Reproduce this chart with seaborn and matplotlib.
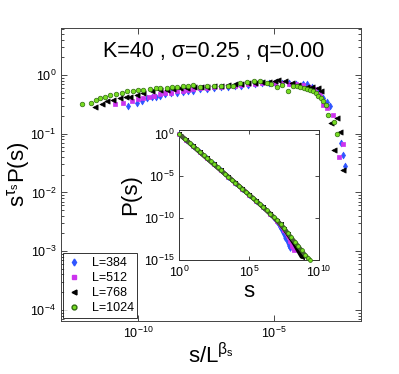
import numpy as np
import pandas as pd
import matplotlib
matplotlib.use("Agg")
import matplotlib.pyplot as plt
import seaborn as sns
from matplotlib.ticker import LogLocator, NullLocator, NullFormatter
from matplotlib.lines import Line2D

# main panel: log10(s/L^beta_s), log10(s^tau P(s))
x_384 = [-10.36, -10.03, -9.85, -9.68, -9.50, -9.35, -9.19, -9.00, -8.80, -8.58, -8.35, -8.15, -7.97, -7.72,
         -7.47, -7.20, -6.95, -6.70, -6.45, -6.20, -5.95, -5.70, -5.45, -5.20, -4.95, -4.70, -4.45, -4.20,
         -3.95, -3.80, -3.60, -3.40, -3.19, -3.05, -2.94, -2.55, -2.47, -2.39]
y_384 = [-0.52, -0.47, -0.44, -0.40, -0.38, -0.37, -0.35, -0.33, -0.31, -0.30, -0.29, -0.28, -0.27, -0.24,
         -0.24, -0.22, -0.21, -0.20, -0.19, -0.18, -0.17, -0.15, -0.14, -0.13, -0.13, -0.14, -0.14, -0.15,
         -0.16, -0.16, -0.20, -0.26, -0.40, -0.46, -0.53, -1.16, -1.36, -1.55]

x_512 = [-10.85, -10.54, -10.23, -10.00, -9.80, -9.60, -9.40, -9.19, -9.00, -8.80, -8.58, -8.35, -8.15,
         -7.97, -7.72, -7.47, -7.20, -6.95, -6.70, -6.45, -6.20, -5.95, -5.70, -5.45, -5.20, -4.95, -4.70,
         -4.45, -4.20, -3.95, -3.70, -3.50, -3.30, -3.20, -3.05, -2.82, -2.45, -2.60]
y_512 = [-0.50, -0.47, -0.44, -0.41, -0.39, -0.37, -0.35, -0.33, -0.31, -0.30, -0.28, -0.27, -0.25,
         -0.24, -0.23, -0.22, -0.21, -0.20, -0.19, -0.18, -0.17, -0.16, -0.15, -0.14, -0.13, -0.13, -0.14,
         -0.15, -0.16, -0.17, -0.20, -0.24, -0.33, -0.51, -0.56, -0.68, -1.17, -1.39]

x_768 = [-11.58, -11.33, -11.15, -10.91, -10.66, -10.45, -10.29, -10.05, -9.80, -9.50, -9.19, -8.95, -8.70,
         -8.45, -8.20, -7.95, -7.70, -7.45, -7.20, -6.95, -6.70, -6.45, -6.20, -5.95, -5.70, -5.45, -5.20,
         -4.95, -4.85, -4.59, -4.35, -4.10, -3.80, -3.61, -3.37, -3.28, -2.92, -2.70, -2.57, -2.79, -2.47]
y_768 = [-0.54, -0.50, -0.45, -0.43, -0.40, -0.38, -0.37, -0.34, -0.31, -0.28, -0.26, -0.25, -0.24,
         -0.23, -0.22, -0.21, -0.20, -0.20, -0.19, -0.18, -0.17, -0.16, -0.15, -0.14, -0.13, -0.12, -0.12,
         -0.11, -0.09, -0.11, -0.14, -0.17, -0.20, -0.20, -0.23, -0.28, -0.81, -0.74, -0.97, -1.28, -1.61]

x_1024 = [-12.06, -11.74, -11.55, -11.40, -11.22, -11.03, -10.80, -10.60, -10.41, -10.20, -10.00, -9.80,
          -9.55, -9.35, -9.19, -8.95, -8.75, -8.58, -8.35, -8.15, -7.97, -7.72, -7.47, -7.20, -6.95, -6.70,
          -6.50, -6.25, -6.00, -5.75, -5.51, -5.27, -5.10, -4.90, -4.70, -4.48, -4.30, -4.15, -4.04, -3.90,
          -3.80, -3.68, -3.55, -3.45, -3.37, -3.28, -3.19, -3.09, -3.01, -2.79, -2.68]
y_1024 = [-0.50, -0.47, -0.43, -0.40, -0.37, -0.34, -0.32, -0.30, -0.28, -0.27, -0.26, -0.25,
          -0.24, -0.23, -0.23, -0.22, -0.21, -0.20, -0.19, -0.18, -0.17, -0.20, -0.19, -0.19, -0.19, -0.18,
          -0.19, -0.14, -0.12, -0.11, -0.11, -0.14, -0.15, -0.20, -0.17, -0.27, -0.18, -0.19, -0.20, -0.22,
          -0.24, -0.25, -0.28, -0.31, -0.35, -0.39, -0.44, -0.51, -0.68, -0.80, -1.00]

# inset: log10(s), log10(P(s))
ls_1024 = [0.00, 0.43, 0.75, 1.00, 1.25, 1.50, 1.75, 2.00, 2.25, 2.50, 2.75, 3.00, 3.25, 3.50, 3.75, 4.00,
           4.25, 4.50, 4.75, 5.00, 5.25, 5.50, 5.75, 6.00, 6.25, 6.50, 6.75, 7.00, 7.25, 7.50, 7.75, 8.00,
           8.25, 8.50, 8.75, 9.00, 9.20, 9.36]
lp_1024 = [0.00, -0.60, -1.07, -1.44, -1.80, -2.17, -2.53, -2.90, -3.26, -3.62, -3.98, -4.34, -4.70, -5.06,
           -5.42, -5.78, -6.14, -6.50, -6.86, -7.22, -7.58, -7.95, -8.32, -8.70, -9.08, -9.47, -9.87, -10.28,
           -10.72, -11.20, -11.75, -12.30, -12.80, -13.30, -13.85, -14.40, -14.75, -15.00]

ls_768 = [0.00, 0.50, 1.00, 1.50, 2.00, 2.50, 3.00, 3.50, 4.00, 4.50, 5.00, 5.50, 6.00, 6.50, 7.00, 7.25,
          7.50, 7.75, 8.00, 8.25, 8.50, 8.76]
lp_768 = [0.00, -0.70, -1.44, -2.17, -2.90, -3.62, -4.34, -5.06, -5.78, -6.50, -7.22, -7.95, -8.70, -9.47,
          -10.30, -10.75, -11.25, -11.85, -12.45, -13.10, -13.85, -14.60]

ls_512 = [0.00, 0.50, 1.00, 1.50, 2.00, 2.50, 3.00, 3.50, 4.00, 4.50, 5.00, 5.50, 6.00, 6.50, 7.00, 7.25,
          7.50, 7.75, 7.95, 8.10, 8.20]
lp_512 = [0.00, -0.70, -1.44, -2.17, -2.90, -3.62, -4.34, -5.06, -5.78, -6.50, -7.22, -7.95, -8.70, -9.47,
          -10.35, -10.85, -11.40, -12.00, -12.70, -13.30, -13.80]

ls_384 = [0.00, 0.50, 1.00, 1.50, 2.00, 2.50, 3.00, 3.50, 4.00, 4.50, 5.00, 5.50, 6.00, 6.50, 6.75, 7.00,
          7.20, 7.40, 7.60, 7.75, 7.85, 7.93]
lp_384 = [0.00, -0.70, -1.44, -2.17, -2.90, -3.62, -4.34, -5.06, -5.78, -6.50, -7.22, -7.95, -8.70, -9.47,
          -9.95, -10.50, -11.05, -11.70, -12.40, -12.90, -13.30, -13.60]

labels = ["L=384", "L=512", "L=768", "L=1024"]
markers = ["d", "s", "<", "o"]
faces = ["#2f55ff", "#cc33ee", "black", "#77dd22"]
edges = ["#2f55ff", "#cc33ee", "black", "#2f6a10"]
sizes = [12, 7, 14, 11]

main_x = [x_384, x_512, x_768, x_1024]
main_y = [y_384, y_512, y_768, y_1024]
ins_x = [ls_384, ls_512, ls_768, ls_1024]
ins_y = [lp_384, lp_512, lp_768, lp_1024]

sns.set_style("ticks")
plt.rcParams["font.family"] = ["Liberation Sans", "DejaVu Sans"]
plt.rcParams["mathtext.fontset"] = "custom"
plt.rcParams["mathtext.rm"] = "Liberation Sans"
plt.rcParams["mathtext.it"] = "Liberation Sans"
plt.rcParams["mathtext.bf"] = "Liberation Sans"
plt.rcParams["axes.linewidth"] = 0.7
plt.rcParams["text.color"] = "black"
plt.rcParams["axes.labelcolor"] = "black"
plt.rcParams["xtick.color"] = "black"
plt.rcParams["ytick.color"] = "black"

fig = plt.figure(figsize=(3.99, 3.74), dpi=100)
ax = fig.add_axes([61 / 399, 53 / 374, 300 / 399, 293 / 374])

for i in range(4):
    d = pd.DataFrame({"x": np.power(10.0, main_x[i]), "y": np.power(10.0, main_y[i])})
    sns.scatterplot(data=d, x="x", y="y", marker=markers[i], color=faces[i], edgecolor=edges[i],
                    s=sizes[i], linewidth=0.5, ax=ax, legend=False, zorder=3 + i)

ax.set_xscale("log")
ax.set_yscale("log")
ax.set_xlim(10 ** -12.83, 10 ** -1.80)
ax.set_ylim(10 ** -4.19, 10 ** 0.80)
ax.set_xticks([1e-10, 1e-5])
ax.xaxis.set_minor_locator(NullLocator())
ax.set_yticks([1e-4, 1e-3, 1e-2, 1e-1, 1e0])
ax.yaxis.set_minor_locator(LogLocator(base=10, subs=np.arange(2, 10), numticks=20))
ax.yaxis.set_minor_formatter(NullFormatter())
ax.tick_params(which="both", direction="in", top=True, right=True, labelsize=9, width=0.5)
ax.tick_params(which="major", length=4)
ax.tick_params(which="minor", length=2)
for sp in ax.spines.values():
    sp.set_color("#444444")

ax.set_xlabel(r"$\mathregular{s/L^{\beta_s}}$", fontsize=16)
ax.set_ylabel(r"$\mathregular{s^{\tau_s}P(s)}$", fontsize=16)
ax.xaxis.set_label_coords(0.5, -0.075)
ax.yaxis.set_label_coords(-0.095, 0.5)

ax.text(0.51, 0.92, "K=40 , σ=0.25 , q=0.00", transform=ax.transAxes, ha="center", va="center",
        fontsize=15.5)

handles = [Line2D([], [], linestyle="none", marker=markers[i], markerfacecolor=faces[i],
                  markeredgecolor=edges[i], markersize=3.5 if i != 1 else 2.5) for i in range(4)]
leg = ax.legend(handles, labels, loc="lower left", bbox_to_anchor=(0.006, 0.01), borderaxespad=0,
                fontsize=9, frameon=True, fancybox=False, handlelength=1.2, handletextpad=0.8,
                labelspacing=0.25, borderpad=0.3)
leg.get_frame().set_edgecolor("black")
leg.get_frame().set_linewidth(0.7)

# inset
axi = fig.add_axes([179 / 399, 114 / 374, 140 / 399, 130 / 374])
for i in range(4):
    d = pd.DataFrame({"s": np.power(10.0, ins_x[i]), "p": np.power(10.0, ins_y[i])})
    sns.lineplot(data=d, x="s", y="p", color=edges[i] if i < 3 else "#4a5e36", linewidth=3.0 if i != 0 else 2.0,
                 ax=axi, legend=False, zorder=2 + i)
    sns.scatterplot(data=d, x="s", y="p", marker=markers[i], color=faces[i], edgecolor=edges[i],
                    s=sizes[i] * 0.7, linewidth=0.5, ax=axi, legend=False, zorder=3 + i, clip_on=False)

axi.set_xscale("log")
axi.set_yscale("log")
axi.set_xlim(1, 1e10)
axi.set_ylim(1e-15, 10 ** 0.48)
axi.set_xticks([1, 1e5, 1e10])
axi.set_yticks([1e-15, 1e-10, 1e-5, 1])
axi.xaxis.set_minor_locator(NullLocator())
axi.yaxis.set_minor_locator(NullLocator())
axi.tick_params(which="both", direction="in", top=True, right=True, labelsize=9, length=3, width=0.5)
for sp in axi.spines.values():
    sp.set_color("#333333")
axi.set_xlabel("s", fontsize=16, labelpad=1)
axi.set_ylabel("P(s)", fontsize=16, labelpad=2)

fig.savefig("out.png", dpi=100)
